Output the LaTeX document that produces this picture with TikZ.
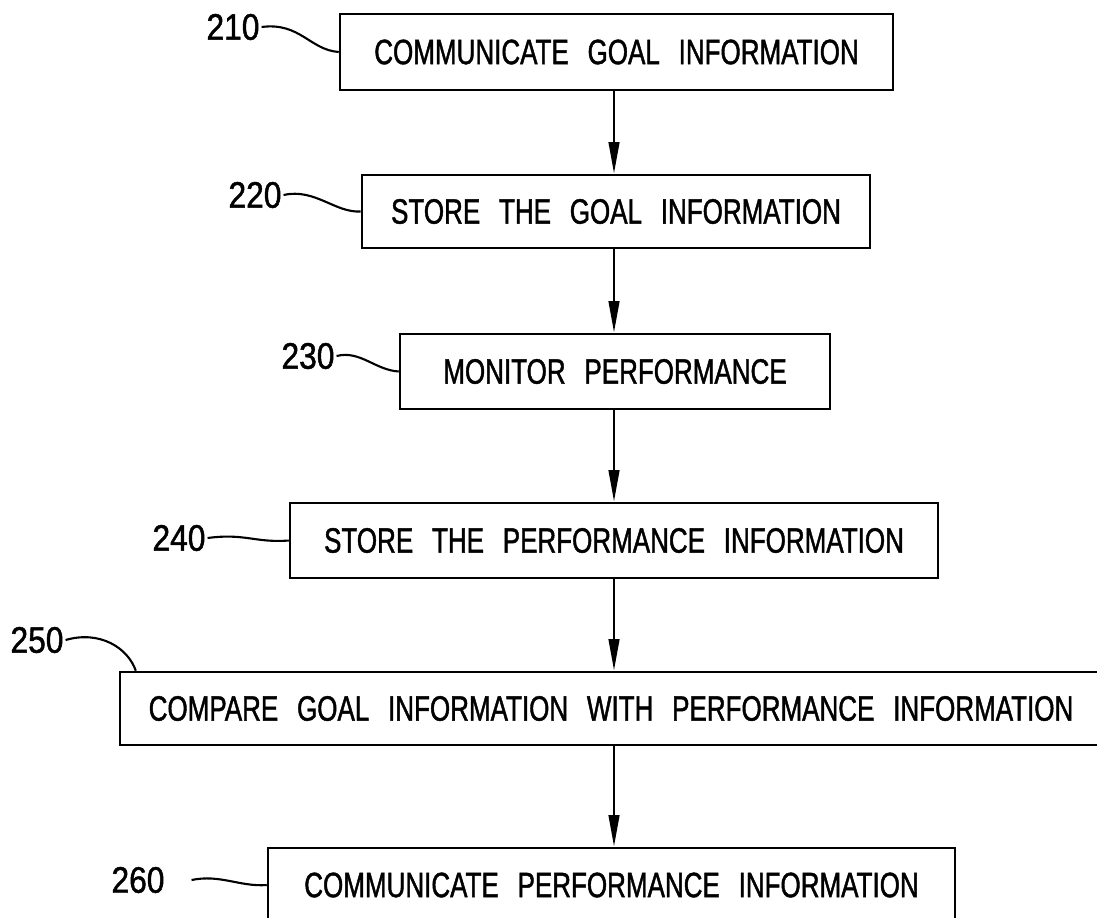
\documentclass[tikz,border=0pt]{standalone}
\usepackage{fontspec}
\setmainfont{Liberation Sans}[FakeStretch=0.74,WordSpace=2.6,FakeBold=1.2]
\newfontfamily\numfont{Liberation Sans}[FakeStretch=0.86,FakeBold=1.2]
\usetikzlibrary{arrows.meta,calc}

\begin{document}
\begin{tikzpicture}[x=0.02cm,y=-0.02cm,
    stepbox/.style={draw,line width=1.5pt,font=\fontsize{20}{24}\selectfont,inner sep=0pt},
    num/.style={font=\numfont\fontsize{21}{24}\selectfont,inner sep=1pt},
    flow/.style={line width=1.5pt,-{Triangle[length=18pt,width=6pt]}},
    lead/.style={line width=1.2pt}]
    \useasboundingbox (0,0) rectangle (1097,917);
    \clip (0,0) rectangle (1097,917);

    % Process boxes
    \node[stepbox,minimum width=11.06cm,minimum height=1.52cm] (b210) at (616.5,52) {COMMUNICATE GOAL INFORMATION};
    \node[stepbox,minimum width=10.16cm,minimum height=1.46cm] (b220) at (616,211.5) {STORE THE GOAL INFORMATION};
    \node[stepbox,minimum width=8.6cm,minimum height=1.5cm] (b230) at (615,371.5) {MONITOR PERFORMANCE};
    \node[stepbox,minimum width=12.96cm,minimum height=1.5cm] (b240) at (614,540.5) {STORE THE PERFORMANCE INFORMATION};
    \node[stepbox,minimum width=19.64cm,minimum height=1.46cm] (b250) at (611,708.5) {COMPARE GOAL INFORMATION WITH PERFORMANCE INFORMATION};
    \node[stepbox,minimum width=13.74cm,minimum height=1.48cm] (b260) at (611.5,885) {COMMUNICATE PERFORMANCE INFORMATION};

    % Reference numerals
    \node[num] (l210) at (233,27) {210};
    \node[num] (l220) at (255,195) {220};
    \node[num] (l230) at (308,356) {230};
    \node[num] (l240) at (179,538) {240};
    \node[num] (l250) at (37,640) {250};
    \node[num] (l260) at (138,880) {260};

    % Leader lines
    \draw[lead] (l210.east) .. controls (300,22) and (310,50) .. (b210.west);
    \draw[lead] (l220.east) .. controls (315,188) and (335,213) .. (b220.west);
    \draw[lead] (l230.east) .. controls (360,350) and (375,370) .. (b230.west);
    \draw[lead] (l240.east) .. controls (245,533) and (255,543) .. (b240.west);
    \draw[lead] (l250.east) .. controls (100,630) and (128,648) .. ($(b250.north west)+(17,0)$);
    \draw[lead] ([xshift=0.5cm]l260.east) .. controls (220,874) and (240,887) .. (b260.west);

    % Flow arrows
    \coordinate (axis) at (614,0);
    \draw[flow] (b210.south -| axis) -- (b220.north -| axis);
    \draw[flow] (b220.south -| axis) -- (b230.north -| axis);
    \draw[flow] (b230.south -| axis) -- (b240.north -| axis);
    \draw[flow] (b240.south -| axis) -- (b250.north -| axis);
    \draw[flow] (b250.south -| axis) -- (b260.north -| axis);
\end{tikzpicture}
\end{document}
